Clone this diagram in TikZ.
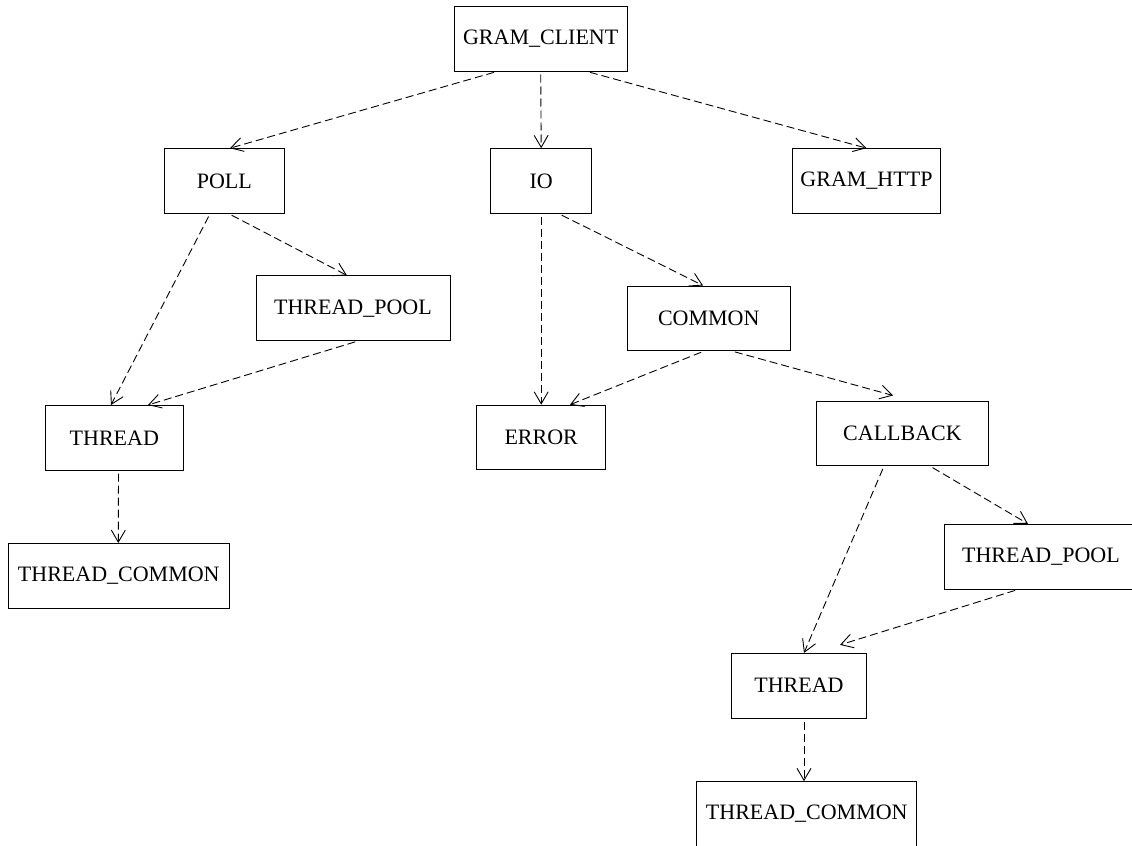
\documentclass[tikz,border=0pt]{standalone}
\usepackage{fontspec}
\setmainfont{Liberation Serif}
\usetikzlibrary{arrows.meta}

\begin{document}
\begin{tikzpicture}[x=0.5pt,y=-0.5pt,
    mod/.style={draw,line width=0.5pt,inner sep=0pt,minimum height=32.3pt,font=\fontsize{11}{13}\selectfont},
    dep/.style={-{Straight Barb[length=6pt,width=7pt]},line width=0.45pt,dash pattern=on 4pt off 2pt,shorten <=1.5pt}]
  \useasboundingbox (0,0) rectangle (1132,846);
  % modules
  \node[mod,minimum width=86.7pt] (client) at (540.7,38.7) {GRAM\_CLIENT};
  \node[mod,minimum width=60pt] (poll) at (224.3,181) {POLL};
  \node[mod,minimum width=50.5pt] (io) at (541.2,181) {IO};
  \node[mod,minimum width=73.8pt] (http) at (866.5,181) {GRAM\_HTTP};
  \node[mod,minimum width=97pt] (tpoolA) at (353,308.2) {THREAD\_POOL};
  \node[mod,minimum width=81.2pt] (common) at (708.8,318.3) {COMMON};
  \node[mod,minimum width=69pt] (threadA) at (114.3,437.8) {THREAD};
  \node[mod,minimum width=64.5pt] (error) at (541.2,437.5) {ERROR};
  \node[mod,minimum width=85.8pt] (callback) at (902.5,433.3) {CALLBACK};
  \node[mod,minimum width=110.5pt] (tcommonA) at (118.8,575.8) {THREAD\_COMMON};
  \node[mod,minimum width=97pt] (tpoolB) at (1041,556.7) {THREAD\_POOL};
  \node[mod,minimum width=67.7pt] (threadB) at (799,685.7) {THREAD};
  \node[mod,minimum width=110pt] (tcommonB) at (806.8,814) {THREAD\_COMMON};
  % dependencies
  \foreach \a/\ax/\b/\bx/\by in {client/-21.85/poll/2.85/0, client/0/io/0/0, client/23.15/http/0/0,
      poll/-7.15/threadA/-1.65/0, poll/2.35/tpoolA/-3/0, tpoolA/2.5/threadA/16.85/0,
      threadA/2.1/tcommonA/-0.25/0, io/0/error/0/0, io/8.9/common/-2.9/0,
      common/-2.4/error/14.4/0, common/11.6/callback/-4.75/2.5,
      callback/-9.25/threadB/2.5/0, callback/13.75/tpoolB/-6.5/0,
      tpoolB/-11.5/threadB/20.5/4, threadB/2.5/tcommonB/-1.4/0}
    \draw[dep] ([xshift=\ax pt]\a.south) -- ([xshift=\bx pt,yshift=\by pt]\b.north);
\end{tikzpicture}
\end{document}
